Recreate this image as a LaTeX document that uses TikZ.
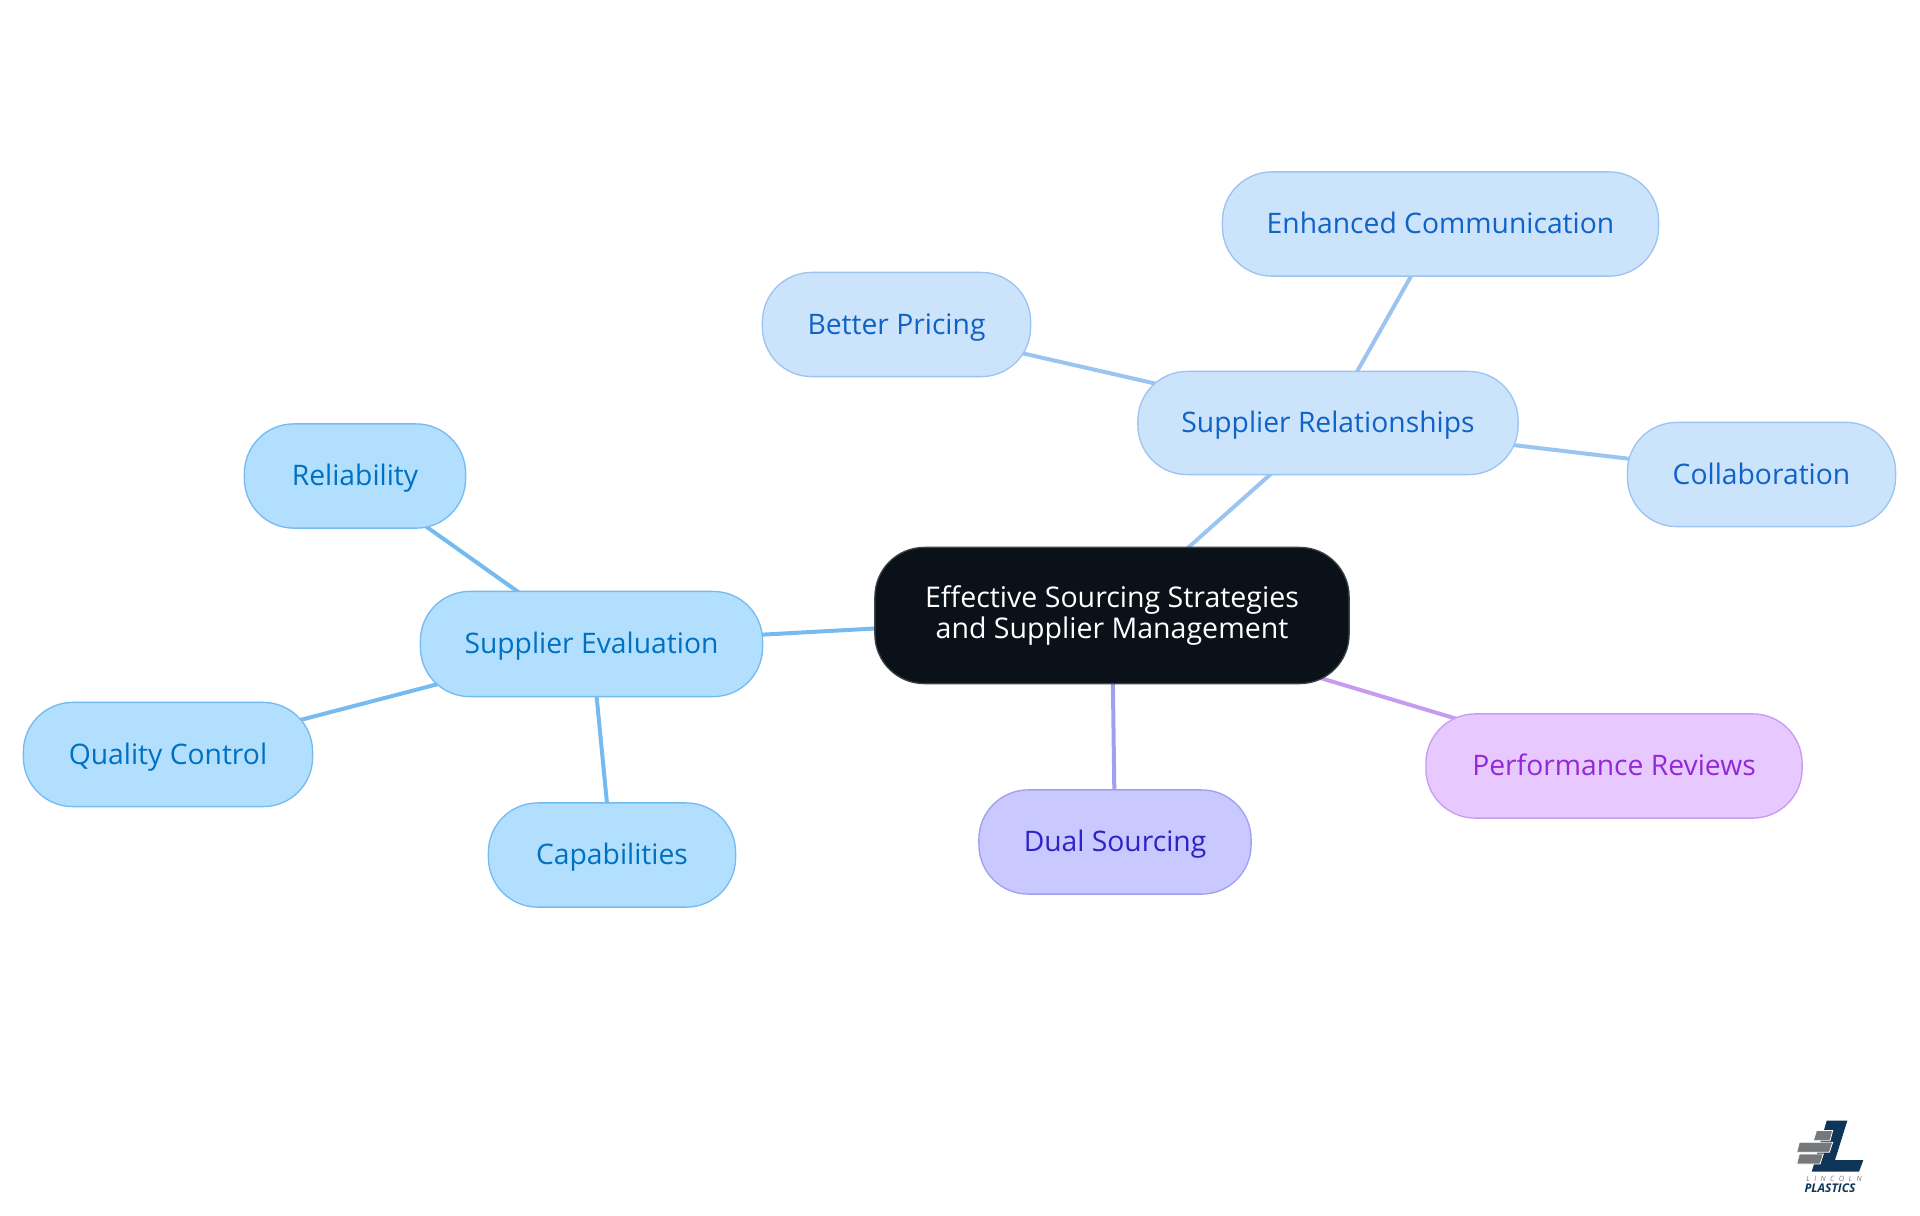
\documentclass[tikz,border=0pt]{standalone}
\usepackage{fontspec}
\setmainfont{Open Sans}
\usepackage{tikz}
\usetikzlibrary{backgrounds}
\definecolor{EvalFill}{HTML}{B3DFFF}
\definecolor{EvalLine}{HTML}{75BBF0}
\definecolor{EvalText}{HTML}{0070C0}
\definecolor{RelFill}{HTML}{CCE3FC}
\definecolor{RelLine}{HTML}{9CC4F0}
\definecolor{RelText}{HTML}{0F62C8}
\definecolor{DualFill}{HTML}{C9C9FF}
\definecolor{DualLine}{HTML}{A0A0F0}
\definecolor{DualText}{HTML}{2F20C8}
\definecolor{PerfFill}{HTML}{E8C9FF}
\definecolor{PerfLine}{HTML}{C79CF0}
\definecolor{PerfText}{HTML}{9228D8}
\definecolor{RootFill}{HTML}{0A1119}
\definecolor{LogoNavy}{HTML}{0F3558}
\definecolor{LogoGray}{HTML}{77787B}
\tikzset{
  % one unit is one pixel of the reference
  x=.75pt,y=-.75pt,
  % w and h are in pixels
  size/.style 2 args={minimum width=(#1-.8)*.75pt,minimum height=(#2-.8)*.75pt},
  topic/.style={
    draw=#1Line,fill=#1Fill,text=#1Text,
    line width=1pt,rounded corners=37pt,
    inner sep=0pt,text height=19pt,text depth=4.5pt,
    font=\fontsize{21.2}{23}\selectfont,
  },
  root/.style={
    draw=RootFill!80!white,fill=RootFill,text=white,
    line width=1pt,rounded corners=37pt,
    inner sep=0pt,align=center,font=\fontsize{21.4}{23}\selectfont,
  },
  link/.style={#1Line,line width=3pt},
  brick/.style={fill=LogoGray,draw=white,line width=.6pt},
}
\begin{document}
\begin{tikzpicture}
  \useasboundingbox (0,0) rectangle (1920,1215);

  \node[root,size={475}{137}] (Root) at (1112,615.5)
    {Effective Sourcing Strategies\\and Supplier Management};

  \node[topic=Eval,size={343}{106}] (Eval) at (591.5,644) {Supplier Evaluation};
  \node[topic=Eval,size={222}{105}] (Reliab) at (355,476) {Reliability};
  \node[topic=Eval,size={290}{105}] (Quality) at (168,754.5) {Quality Control};
  \node[topic=Eval,size={248}{105}] (Capab) at (612,855) {Capabilities};

  \node[topic=Rel,size={381}{104}] (Rel) at (1328,423) {Supplier Relationships};
  \node[topic=Rel,size={437}{105}] (Comm) at (1440.5,224) {Enhanced Communication};
  \node[topic=Rel,size={269}{105}] (Price) at (896.5,324.5) {Better Pricing};
  \node[topic=Rel,size={269}{105}] (Collab) at (1761.5,474.5) {Collaboration};

  \node[topic=Dual,size={273}{105}] (Dual) at (1115,842) {Dual Sourcing};
  \node[topic=Perf,size={377}{105}] (Perf) at (1614,766) {Performance Reviews};

  \begin{scope}[on background layer]
    \path
    (Root.center) edge[link=Eval] (Eval.center)
    (Eval.center) edge[link=Eval] (Reliab.center)
    (Eval.center) edge[link=Eval] (Quality.center)
    (Eval.center) edge[link=Eval] (Capab.center)
    (Root.center) edge[link=Rel] (Rel.center)
    (Rel.center) edge[link=Rel] (Comm.center)
    (Rel.center) edge[link=Rel] (Price.center)
    (Rel.center) edge[link=Rel] (Collab.center)
    (Root.center) edge[link=Dual] (Dual.center)
    (Root.center) edge[link=Perf] (Perf.center)
    ;
  \end{scope}

  % logo
  \fill[LogoNavy] (1826.7,1120.7) -- (1847.3,1120.7) -- (1835,1160) -- (1863.3,1160)
    -- (1859,1171.7) -- (1811.7,1171.7) -- cycle;
  \draw[brick] (1816.5,1130.5) -- (1832.7,1130.5) -- (1830,1140.7) -- (1813.3,1140.7) -- cycle;
  \draw[brick] (1799.3,1142.3) -- (1832.7,1142.3) -- (1829.3,1152.3) -- (1796.7,1152.3) -- cycle;
  \draw[brick] (1799.3,1154) -- (1823.3,1154) -- (1820,1164) -- (1796.7,1164) -- cycle;
  \node[text=LogoGray,inner sep=0pt,font=\fontsize{5.5}{6}\selectfont\itshape\addfontfeatures{LetterSpace=60}] (LogoTop) at (1834,1178.5) {LINCOLN};
  \node[text=LogoNavy,inner sep=0pt,font=\fontsize{9}{10}\selectfont\bfseries\itshape] (LogoBottom) at (1830,1188.5) {PLASTICS};
\end{tikzpicture}
\end{document}
